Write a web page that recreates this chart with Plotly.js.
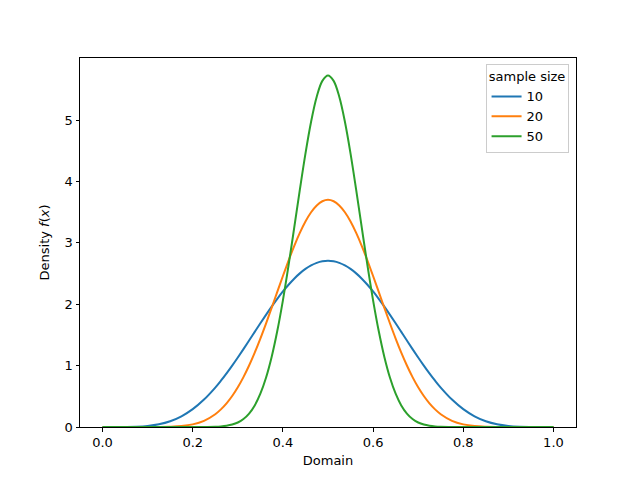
<!DOCTYPE html>
<html>
<head>
<meta charset="utf-8">
<script src="https://cdn.plot.ly/plotly-3.0.1.min.js"></script>
<style>
  body { margin: 0; }
  #myPlot { width: 640px; height: 480px; }
</style>
</head>
<body>
<div id="myPlot"></div>
<script>
// left half of the domain (0 .. 0.5), finer near the centre
const halfX = [0, 0.025, 0.05, 0.075, 0.1, 0.125, 0.15, 0.175, 0.2, 0.225, 0.25,
  0.2625, 0.275, 0.2875, 0.3, 0.3125, 0.325, 0.3375, 0.35, 0.3625, 0.375,
  0.3875, 0.4, 0.4125, 0.425, 0.4375, 0.45, 0.4625, 0.475, 0.4875, 0.5];

// density values for the left half
const half10 = [0, 0.0000, 0.0007, 0.0045, 0.0164, 0.0434, 0.0934, 0.1739, 0.2907, 0.4469, 0.6424,
  0.7538, 0.8733, 0.9998, 1.1321, 1.2688, 1.4084, 1.5491, 1.6892, 1.8270, 1.9604,
  2.0877, 2.2072, 2.3171, 2.4159, 2.5020, 2.5743, 2.6317, 2.6734, 2.6986, 2.707];
const half20 = [0, 0, 0, 0, 0.0001, 0.0010, 0.0044, 0.0153, 0.0427, 0.1008, 0.2083,
  0.2869, 0.3851, 0.5047, 0.6471, 0.8129, 1.0016, 1.2117, 1.4408, 1.6853, 1.9405,
  2.2008, 2.4599, 2.7109, 2.9469, 3.1609, 3.3462, 3.4971, 3.6086, 3.6769, 3.700];
const half50 = [0, 0, 0, 0, 0, 0, 0, 0, 0.0001, 0.0007, 0.0043,
  0.0096, 0.0200, 0.0394, 0.0733, 0.1295, 0.2183, 0.3514, 0.5418, 0.8018, 1.1407,
  1.5624, 2.0636, 2.6312, 3.2417, 3.8625, 4.4538, 4.9729, 5.3789, 5.6372, 5.726];

const sizes = ["10", "20", "50"];
const colors = ["#1f77b4", "#ff7f0e", "#2ca02c"];

// curves are symmetric about 0.5
const xs = halfX.concat(halfX.slice(0, -1).reverse().map((v) => 1 - v));
function mirror(half) {
  return half.concat(half.slice(0, -1).reverse());
}
const series = [mirror(half10), mirror(half20), mirror(half50)];

const data = sizes.map((s, i) => ({
  x: xs,
  y: series[i],
  name: s,
  type: "scatter",
  mode: "lines",
  line: { color: colors[i], width: 2, shape: "spline", smoothing: 1 },
}));

const axisStyle = {
  showgrid: false,
  zeroline: false,
  showline: true,
  mirror: true,
  linecolor: "#000",
  linewidth: 1,
  ticks: "outside",
  ticklen: 3.5,
  tickwidth: 0.8,
  tickcolor: "#000",
  tickfont: { size: 13, color: "#000" },
};

const layout = {
  width: 640,
  height: 480,
  margin: { l: 80, r: 64, t: 58, b: 53 },
  paper_bgcolor: "#fff",
  plot_bgcolor: "#fff",
  font: { family: "DejaVu Sans", color: "#000" },
  showlegend: true,
  xaxis: Object.assign({}, axisStyle, {
    range: [-0.05, 1.05],
    tickvals: [0, 0.2, 0.4, 0.6, 0.8, 1],
    ticktext: ["0.0", "0.2", "0.4", "0.6", "0.8", "1.0"],
    title: { text: "Domain", font: { size: 13 }, standoff: 6 },
  }),
  yaxis: Object.assign({}, axisStyle, {
    range: [0, 6.01],
    tickvals: [0, 1, 2, 3, 4, 5],
    title: { text: "Density <i>f</i>(<i>x</i>)", font: { size: 13 }, standoff: 12 },
  }),
  legend: {
    x: 0.985,
    y: 0.985,
    xanchor: "right",
    yanchor: "top",
    bgcolor: "rgba(255,255,255,0.8)",
    bordercolor: "#ccc",
    borderwidth: 1,
    font: { size: 13 },
    title: { text: "sample size", font: { size: 13 }, side: "top center" },
    tracegroupgap: 0,
  },
};

Plotly.newPlot("myPlot", data, layout, { displayModeBar: false });
</script>
</body>
</html>
